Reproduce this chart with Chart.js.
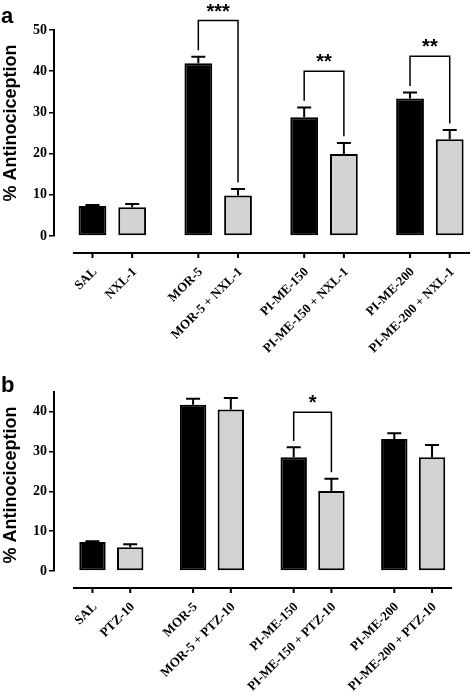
<!DOCTYPE html>
<html lang="en">
<head>
<meta charset="UTF-8">
<title>% Antinociception</title>
<script src="https://cdn.jsdelivr.net/npm/chart.js@4"></script>
<style>
  html, body { margin: 0; padding: 0; background: #fff; }
  .panel { position: absolute; left: 0; width: 472px; }
  #panelA { top: 0; height: 362px; }
  #panelB { top: 362px; height: 334px; }
</style>
</head>
<body>
<div class="panel" id="panelA"><canvas id="chartA"></canvas></div>
<div class="panel" id="panelB"><canvas id="chartB"></canvas></div>

<script>
// agonist alone (black bars)
const groups = ['SAL', 'MOR-5', 'PI-ME-150', 'PI-ME-200'];
// panel a: + NXL-1 (grey bars)
const labelsA = ['NXL-1', 'MOR-5 + NXL-1', 'PI-ME-150 + NXL-1', 'PI-ME-200 + NXL-1'];
const meanA1 = [7.3, 41.9, 28.8, 33.4];
const semA1 = [0.2, 1.6, 2.4, 1.4];
const meanA2 = [6.95, 9.8, 19.9, 23.5];
const semA2 = [0.8, 1.6, 2.7, 2.2];
const starsA = ['', '***', '**', '**'];
const yTicksA = [0, 10, 20, 30, 40, 50];
// panel b: + PTZ-10 (grey bars)
const labelsB = ['PTZ-10', 'MOR-5 + PTZ-10', 'PI-ME-150 + PTZ-10', 'PI-ME-200 + PTZ-10'];
const meanB1 = [7.3, 41.8, 28.6, 33.2];
const semB1 = [0.15, 1.5, 2.5, 1.4];
const meanB2 = [6.0, 40.6, 20.1, 28.6];
const semB2 = [0.7, 2.9, 3.1, 3.1];
const starsB = ['', '', '*', ''];
const yTicksB = [0, 10, 20, 30, 40];

function makePanel(id, p) {
  const decor = {
    id: 'decor',
    afterDatasetsDraw(chart) {
      const ctx = chart.ctx, y = chart.scales.y, area = chart.chartArea;
      const bars = [chart.getDatasetMeta(0).data, chart.getDatasetMeta(1).data];
      const means = [p.mean1, p.mean2], sems = [p.sem1, p.sem2], names = [groups, p.labels];
      ctx.save();
      ctx.strokeStyle = '#000';
      ctx.fillStyle = '#000';

      // error bars (upper only)
      ctx.lineWidth = 2;
      bars.forEach((list, d) => list.forEach((bar, i) => {
        const top = y.getPixelForValue(means[d][i]);
        const cap = y.getPixelForValue(means[d][i] + sems[d][i]);
        ctx.beginPath();
        ctx.moveTo(bar.x, top); ctx.lineTo(bar.x, cap);
        ctx.moveTo(bar.x - 7, cap); ctx.lineTo(bar.x + 7, cap);
        ctx.stroke();
      }));

      // detached x axis with ticks and slanted labels
      const axisY = area.bottom + 17;
      ctx.lineWidth = 2;
      ctx.beginPath(); ctx.moveTo(area.left + 19, axisY); ctx.lineTo(area.right, axisY); ctx.stroke();
      ctx.font = 'bold 13px "Liberation Serif"';
      ctx.textAlign = 'right';
      ctx.textBaseline = 'middle';
      bars.forEach((list, d) => list.forEach((bar, i) => {
        ctx.beginPath(); ctx.moveTo(bar.x, axisY); ctx.lineTo(bar.x, axisY + 5); ctx.stroke();
        ctx.save();
        ctx.translate(bar.x + 2.5, axisY + 17);
        ctx.rotate(-Math.PI / 4);
        ctx.fillText(names[d][i], 0, 0);
        ctx.restore();
      }));

      // significance brackets
      ctx.lineWidth = 1.5;
      ctx.font = 'bold 20px "Liberation Sans"';
      ctx.textAlign = 'center';
      ctx.textBaseline = 'alphabetic';
      p.stars.forEach((s, i) => {
        if (!s) return;
        const v1 = p.mean1[i] + p.sem1[i], v2 = p.mean2[i] + p.sem2[i];
        const x1 = bars[0][i].x, x2 = bars[1][i].x;
        const top = y.getPixelForValue(Math.max(v1, v2) + 8.8);
        ctx.beginPath();
        ctx.moveTo(x1, y.getPixelForValue(v1 + 1.6));
        ctx.lineTo(x1, top); ctx.lineTo(x2, top);
        ctx.lineTo(x2, y.getPixelForValue(v2 + 1.6));
        ctx.stroke();
        ctx.fillText(s, (x1 + x2) / 2, top - 3);
      });

      // y title and panel letter
      ctx.save();
      ctx.translate(16, 123);
      ctx.rotate(-Math.PI / 2);
      ctx.font = 'bold 18px "Liberation Sans"';
      ctx.fillText('% Antinociception', 0, 0);
      ctx.restore();
      ctx.font = 'bold 22px "Liberation Sans"';
      ctx.textAlign = 'left';
      ctx.fillText(p.letter, 1, p.letterY);
      ctx.restore();
    }
  };

  const barStyle = { borderColor: '#000', borderWidth: 2, borderSkipped: false,
                     categoryPercentage: 0.75, barPercentage: 0.7 };

  return new Chart(document.getElementById(id), {
    type: 'bar',
    data: {
      datasets: [
        Object.assign({ data: p.mean1.map((v, i) => ({ x: i, y: v })), backgroundColor: '#000' }, barStyle),
        Object.assign({ data: p.mean2.map((v, i) => ({ x: i, y: v })), backgroundColor: '#d3d3d3' }, barStyle)
      ]
    },
    options: {
      responsive: true,
      maintainAspectRatio: false,
      animation: false,
      layout: { padding: { top: 30, bottom: p.padBottom, left: 0, right: p.padRight } },
      plugins: { legend: { display: false }, tooltip: { enabled: false } },
      scales: {
        x: {
          type: 'linear', display: false, offset: false, min: p.xMin, max: p.xMax,
          // one tick per group so the bar width is taken from the group spacing
          afterBuildTicks: s => { s.ticks = groups.map((g, i) => ({ value: i })); }
        },
        y: {
          min: 0,
          max: p.yMax,
          afterBuildTicks: s => { s.ticks = p.yTicks.map(v => ({ value: v })); },
          afterFit: s => { s.width = 54; },
          border: { display: true, color: '#000', width: 2 },
          grid: { drawOnChartArea: false, drawTicks: true, tickLength: 5, color: '#000', lineWidth: 1.5 },
          ticks: { color: '#000', padding: 2, font: { family: 'Liberation Serif', size: 14, weight: 'bold' } }
        }
      }
    },
    plugins: [decor]
  });
}

makePanel('chartA', {
  letter: 'a', letterY: 23, labels: labelsA,
  mean1: meanA1, sem1: semA1, mean2: meanA2, sem2: semA2, stars: starsA,
  yTicks: yTicksA, yMax: 50, xMin: -0.551, xMax: 3.379, padBottom: 126, padRight: 2
});
makePanel('chartB', {
  letter: 'b', letterY: 30, labels: labelsB,
  mean1: meanB1, sem1: semB1, mean2: meanB2, sem2: semB2, stars: starsB,
  yTicks: yTicksB, yMax: 45, xMin: -0.57, xMax: 3.386, padBottom: 125, padRight: 20
});
</script>
</body>
</html>
